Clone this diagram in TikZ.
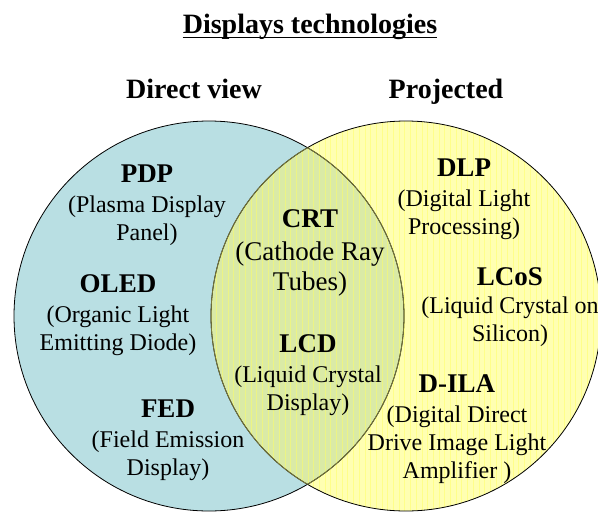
\documentclass[tikz,border=0pt]{standalone}
\usepackage{fontspec}
\setmainfont{Liberation Serif}
\usetikzlibrary{positioning}
\definecolor{viewblue}{RGB}{185,223,227}
\definecolor{projyellow}{RGB}{255,255,178}
\definecolor{bothgreen}{RGB}{218,234,166}
\definecolor{gridyellow}{RGB}{255,255,100}
\definecolor{lensline}{RGB}{120,120,60}

\begin{document}
\begin{tikzpicture}[x=1pt,y=-1pt,
  headtxt/.style={font=\fontsize{28}{32}\selectfont\bfseries, inner sep=0pt, anchor=base},
  techbox/.style={align=center, anchor=north, inner sep=0pt, font=\fontsize{24}{28}\selectfont}]
\useasboundingbox (0,0) rectangle (598,512);
%兩個圓
\fill[viewblue] (209,316) circle (195pt);
\fill[projyellow] (406,316) circle (195pt);
\begin{scope}
\clip (209,316) circle (195pt);
\fill[bothgreen] (406,316) circle (195pt);
\end{scope}
%格子
\begin{scope}
\clip (406,316) circle (195pt);
\draw[gridyellow, opacity=.5, line width=.6pt, step=5.7] (200,110) grid (610,520);
\end{scope}
%外框
\draw[line width=.8pt] (209,316) circle (195pt);
\draw[line width=.8pt] (406,316) circle (195pt);
\begin{scope}
\clip (406,316) circle (195pt);
\draw[lensline, line width=.8pt] (209,316) circle (195pt);
\end{scope}
\begin{scope}
\clip (209,316) circle (195pt);
\draw[lensline, line width=.8pt] (406,316) circle (195pt);
\end{scope}

%標題
\node[headtxt] (title) at (310,33) {Displays technologies};
\draw[line width=1.4pt] ([yshift=-4.5pt]title.base west) -- ([yshift=-4.5pt]title.base east);
\node[headtxt] (direct) at (194,98) {Direct view};
\node[headtxt] (projected) at (446,98) {Projected};

%左
\node[techbox] (pdp) at (147,165) {\textbf{\fontsize{27}{30}\selectfont PDP}\\[2pt](Plasma Display\\Panel)};
\node[techbox] (oled) at (118,274) {\textbf{\fontsize{27}{30}\selectfont OLED}\\[2pt](Organic Light\\Emitting Diode)};
\node[techbox] (fed) at (168,400) {\textbf{\fontsize{27}{30}\selectfont FED}\\[2pt](Field Emission\\Display)};
%中
\node[techbox, font=\fontsize{27}{30}\selectfont] (crt) at (310,209) {\textbf{CRT}\\[3pt](Cathode Ray\\Tubes)};
\node[techbox] (lcd) at (308,334) {\textbf{\fontsize{27}{30}\selectfont LCD}\\[2pt](Liquid Crystal\\Display)};
%右
\node[techbox] (dlp) at (464,159) {\textbf{\fontsize{27}{30}\selectfont DLP}\\[2pt](Digital Light\\Processing)};
\node[techbox] (lcos) at (510,267) {\textbf{\fontsize{27}{30}\selectfont LCoS}\\[0pt](Liquid Crystal on\\Silicon)};
\node[techbox] (dila) at (457,374) {\textbf{\fontsize{27}{30}\selectfont D-ILA}\\[2pt](Digital Direct\\Drive Image Light\\Amplifier )};
\end{tikzpicture}
\end{document}
